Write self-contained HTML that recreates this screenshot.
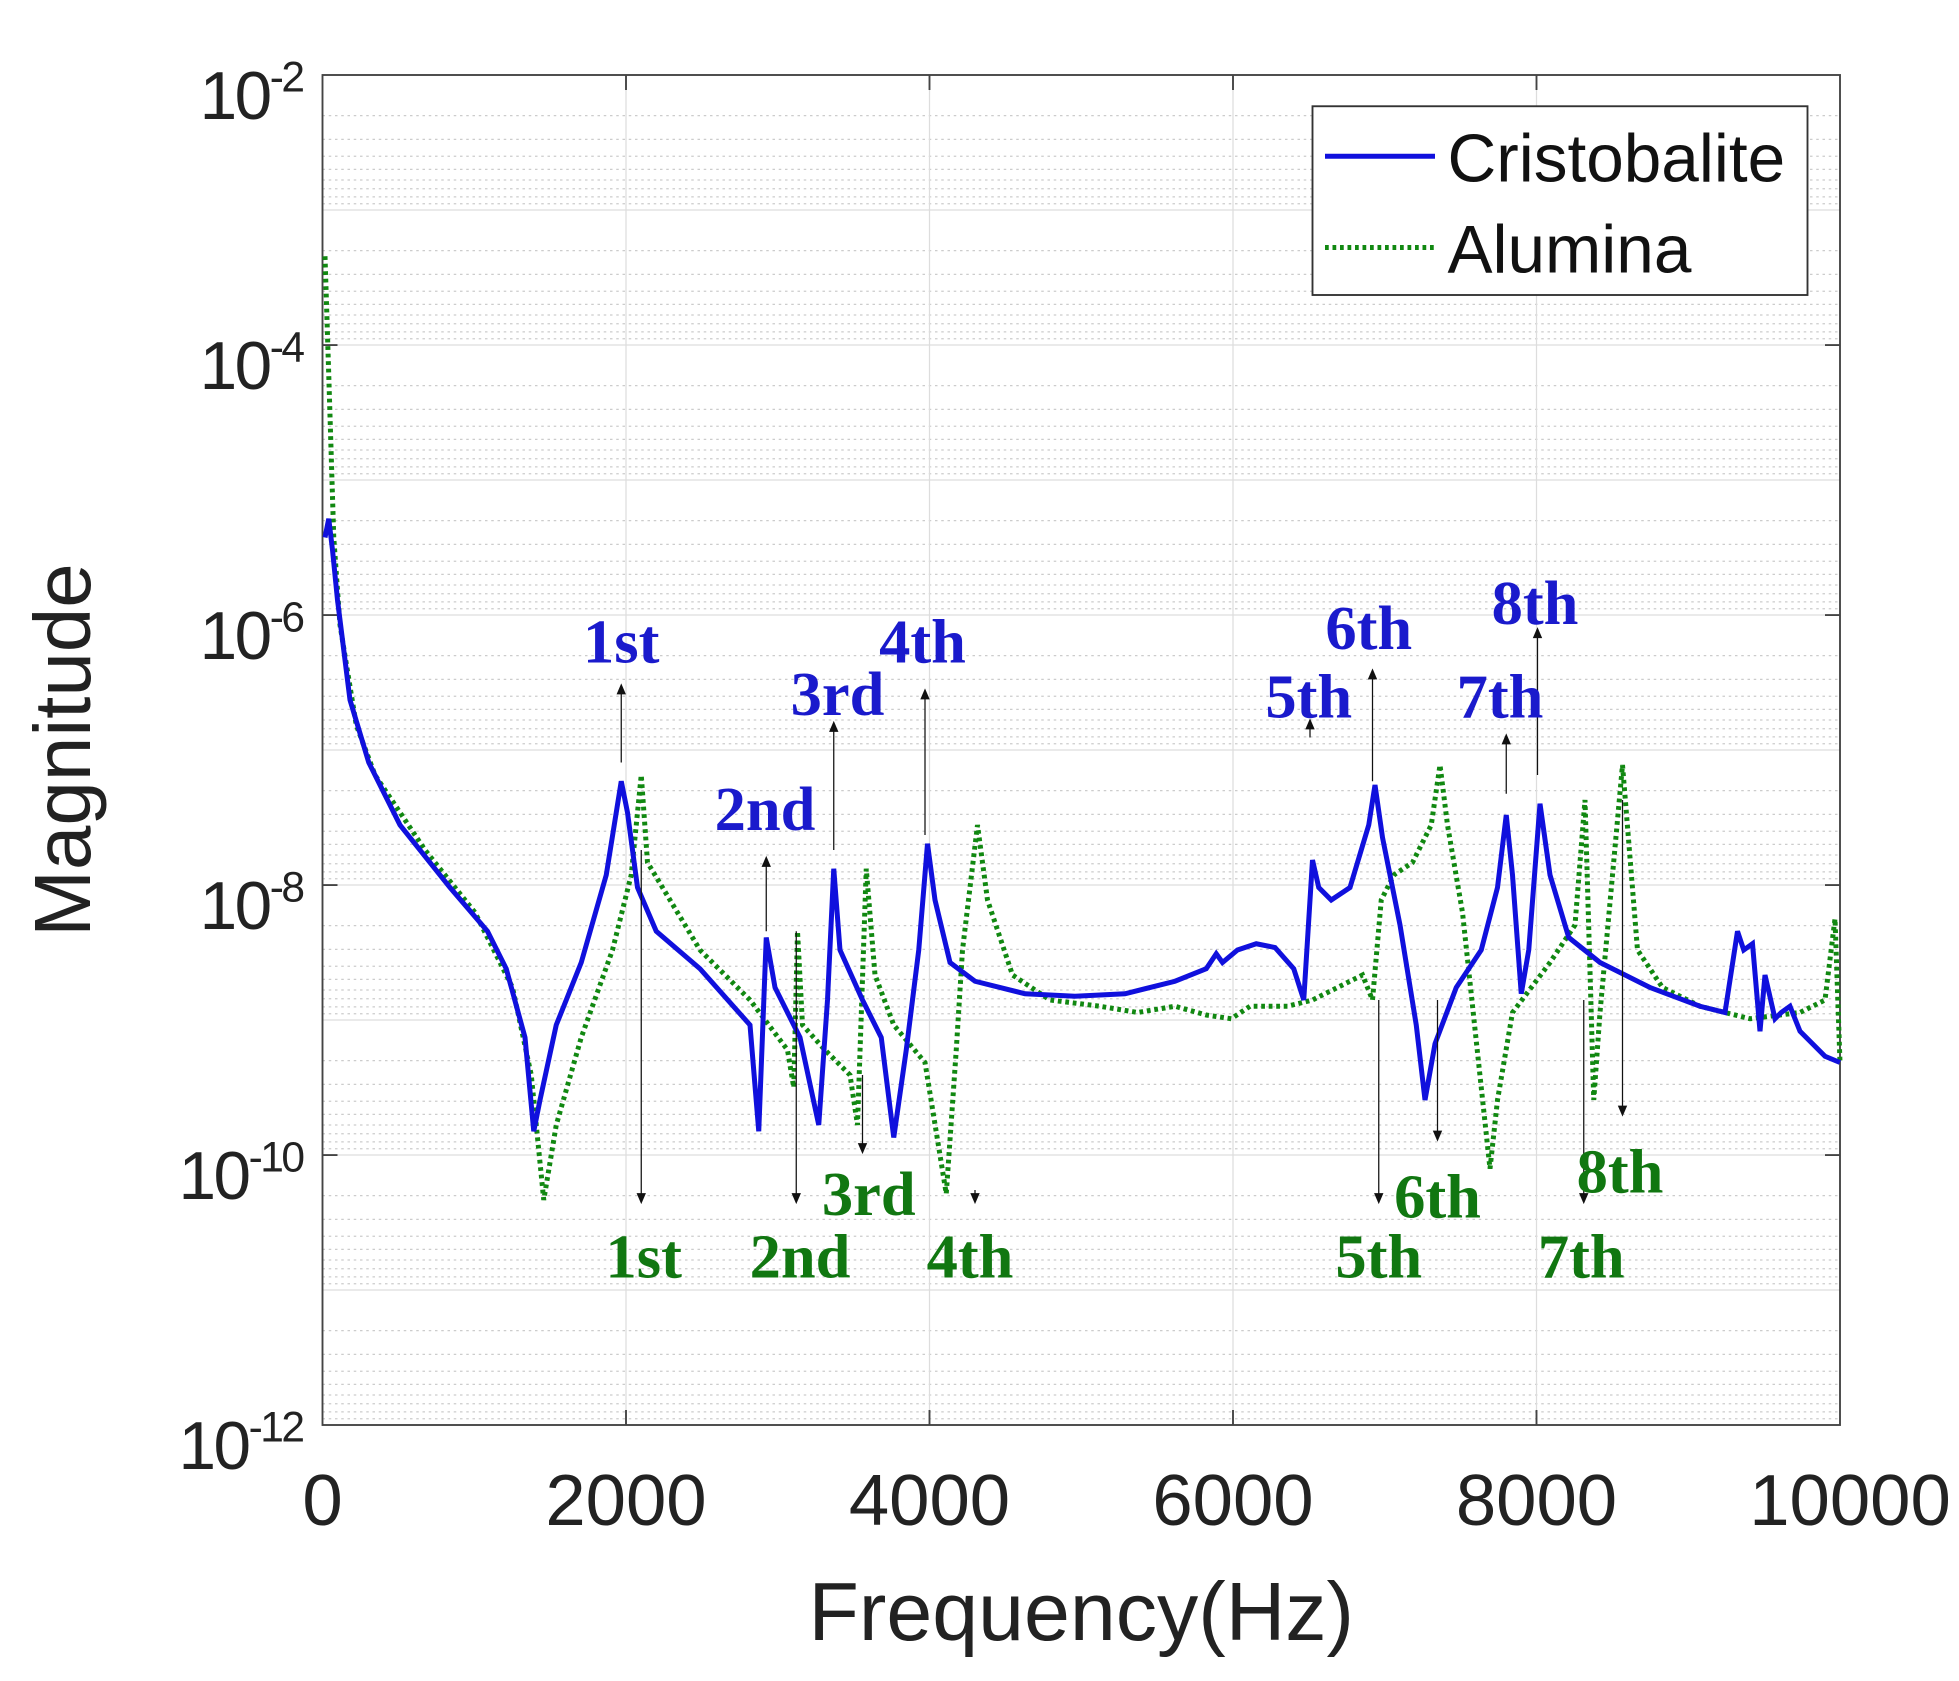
<!DOCTYPE html>
<html><head><meta charset="utf-8"><style>html,body{margin:0;padding:0;background:#fff}svg{display:block}</style></head>
<body>
<svg width="1959" height="1681" viewBox="0 0 1567.2 1344.8" preserveAspectRatio="none" xmlns="http://www.w3.org/2000/svg">
<rect width="1567.2" height="1344.8" fill="#fff"/>
<g stroke="#ccc" stroke-width="1" stroke-dasharray="2,3">
<path d="M258,92.5H1472M258,111.5H1472M258,125H1472M258,135.5H1472M258,144H1472M258,151H1472M258,157.5H1472M258,163H1472
M258,200.5H1472M258,219.5H1472M258,233H1472M258,243.5H1472M258,252H1472M258,259H1472M258,265.5H1472M258,271H1472
M258,308.5H1472M258,327.5H1472M258,341H1472M258,351.5H1472M258,360H1472M258,367H1472M258,373.5H1472M258,379H1472
M258,416.5H1472M258,435.5H1472M258,449H1472M258,459.5H1472M258,468H1472M258,475H1472M258,481.5H1472M258,487H1472
M258,524.5H1472M258,543.5H1472M258,557H1472M258,567.5H1472M258,576H1472M258,583H1472M258,589.5H1472M258,595H1472
M258,632.5H1472M258,651.5H1472M258,665H1472M258,675.5H1472M258,684H1472M258,691H1472M258,697.5H1472M258,703H1472
M258,740.5H1472M258,759.5H1472M258,773H1472M258,783.5H1472M258,792H1472M258,799H1472M258,805.5H1472M258,811H1472
M258,848.5H1472M258,867.5H1472M258,881H1472M258,891.5H1472M258,900H1472M258,907H1472M258,913.5H1472M258,919H1472
M258,956.5H1472M258,975.5H1472M258,989H1472M258,999.5H1472M258,1008H1472M258,1015H1472M258,1021.5H1472M258,1027H1472
M258,1064.5H1472M258,1083.5H1472M258,1097H1472M258,1107.5H1472M258,1116H1472M258,1123H1472M258,1129.5H1472M258,1135H1472"/>
</g>
<g stroke="#ddd" stroke-width="1">
<path d="M258,168H1472M258,276H1472M258,384H1472M258,492H1472M258,600H1472M258,708H1472M258,816H1472M258,924H1472M258,1032H1472
M500.8,60V1140M743.6,60V1140M986.4,60V1140M1229.2,60V1140"/>
</g>
<rect x="258" y="60" width="1214" height="1080" fill="none" stroke="#444" stroke-width="1.5"/>
<g stroke="#444" stroke-width="1.5">
<path d="M500.8,1140v-12M743.6,1140v-12M986.4,1140v-12M1229.2,1140v-12M500.8,60v12M743.6,60v12M986.4,60v12M1229.2,60v12
M258,276h12M258,492h12M258,708h12M258,924h12M1472,276h-12M1472,492h-12M1472,708h-12M1472,924h-12"/>
</g>
<g font-family="Liberation Sans, sans-serif" font-size="54" fill="#222" text-anchor="end" letter-spacing="-2">
<text x="242" y="95">10<tspan font-size="34" dy="-22">-2</tspan></text>
<text x="242" y="311">10<tspan font-size="34" dy="-22">-4</tspan></text>
<text x="242" y="527">10<tspan font-size="34" dy="-22">-6</tspan></text>
<text x="242" y="743">10<tspan font-size="34" dy="-22">-8</tspan></text>
<text x="242" y="959">10<tspan font-size="34" dy="-22">-10</tspan></text>
<text x="242" y="1175">10<tspan font-size="34" dy="-22">-12</tspan></text>
</g>
<g font-family="Liberation Sans, sans-serif" font-size="58" fill="#222" text-anchor="middle">
<text x="258" y="1220">0</text><text x="500.8" y="1220">2000</text><text x="743.6" y="1220">4000</text>
<text x="986.4" y="1220">6000</text><text x="1229.2" y="1220">8000</text><text x="1480" y="1220">10000</text>
<text x="865" y="1312" font-size="66">Frequency(Hz)</text>
<text transform="translate(72,600) rotate(-90)" font-size="64">Magnitude</text>
</g>
<polyline fill="none" stroke="#118811" stroke-width="4" stroke-dasharray="3,3" points="260,205 263,300 267,430 272,500 285,580 300,620 340,680 380,730 410,790 425,860 435,960 445,900 465,830 490,760 505,700 513,620 518,690 530,710 560,760 600,800 630,840 635,870 638,745 642,820 660,840 680,860 686,900 693,695 700,780 715,820 740,850 757,955 765,840 770,760 782,660 790,720 810,780 840,800 880,805 910,810 940,805 965,812 985,815 1000,805 1030,805 1050,800 1070,790 1090,780 1098,800 1105,720 1115,700 1130,690 1145,660 1152,612 1158,660 1170,730 1185,870 1192,935 1198,880 1210,810 1240,770 1260,740 1268,640 1275,880 1280,810 1290,700 1298,612 1310,760 1330,790 1360,805 1400,815 1440,810 1460,800 1468,735 1472,850"/>
<polyline fill="none" stroke="#1010dd" stroke-width="4" points="260,430 263,415 266,440 270,480 280,560 295,610 320,660 360,710 390,745 405,775 420,830 427,905 432,880 445,820 465,770 485,700 497,625 502,650 510,710 525,745 560,775 600,820 607,905 613,750 620,790 640,830 655,900 662,800 667,695 672,760 690,800 705,830 715,910 725,840 735,760 742,675 748,720 760,770 780,785 820,795 860,797 900,795 940,785 965,775 973,763 978,770 990,760 1005,755 1020,758 1035,775 1043,800 1050,688 1055,710 1065,720 1080,710 1095,660 1100,628 1106,670 1120,740 1133,820 1140,880 1148,835 1165,790 1185,760 1198,710 1205,652 1210,700 1217,795 1223,760 1232,643 1240,700 1255,750 1280,770 1320,790 1360,805 1380,810 1390,745 1395,760 1402,755 1408,825 1412,780 1420,815 1425,810 1432,805 1440,825 1460,845 1472,850"/>
<g stroke="#111" stroke-width="1" fill="#111">
<path d="M497,610V552M613,745V690M667,680V582M740,668V556M1048,590V580M1098,625V540M1205,635V592M1230,620V507"/>
<path d="M513,680V958M637,745V958M690,860V918M780,952V958M1103,800V958M1150,800V908M1267,800V958M1298,640V888"/>
<path d="M497,548l-3,7h6zM613,686l-3,7h6zM667,578l-3,7h6zM740,552l-3,7h6zM1048,576l-3,7h6zM1098,536l-3,7h6zM1205,588l-3,7h6zM1230,503l-3,7h6z"/>
<path d="M513,962l-3,-7h6zM637,962l-3,-7h6zM690,922l-3,-7h6zM780,962l-3,-7h6zM1103,962l-3,-7h6zM1150,912l-3,-7h6zM1267,962l-3,-7h6zM1298,892l-3,-7h6z"/>
</g>
<g font-family="Liberation Serif, serif" font-weight="bold" font-size="50" text-anchor="middle" fill="#1a1acc">
<text x="497" y="530">1st</text><text x="612" y="664">2nd</text><text x="670" y="572">3rd</text><text x="738" y="530">4th</text>
<text x="1047" y="574">5th</text><text x="1095" y="519">6th</text><text x="1200" y="574">7th</text><text x="1228" y="499">8th</text>
</g>
<g font-family="Liberation Serif, serif" font-weight="bold" font-size="50" text-anchor="middle" fill="#117711">
<text x="515" y="1022">1st</text><text x="640" y="1022">2nd</text><text x="695" y="972">3rd</text><text x="776" y="1022">4th</text>
<text x="1103" y="1022">5th</text><text x="1150" y="974">6th</text><text x="1265" y="1022">7th</text><text x="1296" y="954">8th</text>
</g>
<rect x="1050" y="85" width="396" height="151" fill="#fff" stroke="#333" stroke-width="1.5"/>
<line x1="1060" y1="125" x2="1148" y2="125" stroke="#1010dd" stroke-width="4"/>
<line x1="1060" y1="198" x2="1148" y2="198" stroke="#118811" stroke-width="4" stroke-dasharray="3,3"/>
<g font-family="Liberation Sans, sans-serif" font-size="54" fill="#111">
<text x="1158" y="145">Cristobalite</text><text x="1158" y="218">Alumina</text>
</g>
</svg>
</body></html>
